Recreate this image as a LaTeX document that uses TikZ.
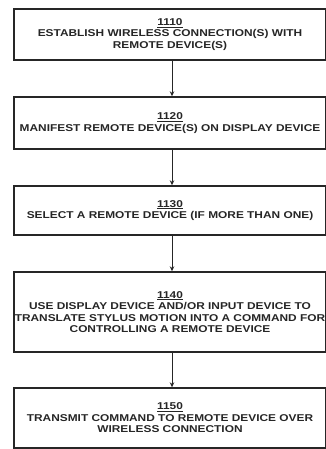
\documentclass[tikz,border=0pt]{standalone}
\usepackage{fontspec}
\setmainfont{Liberation Sans}[FakeStretch=1.2]
\usetikzlibrary{arrows.meta}
\begin{document}
\begin{tikzpicture}[x=1pt,y=1pt,
  stepbox/.style={draw=black!85, line width=1.4pt, minimum width=312pt, inner sep=0pt,
    align=center, font=\fontsize{9.9}{11.5}\selectfont\bfseries, text=black!85},
  flow/.style={draw=black!85, line width=1pt, -{Stealth[length=5pt,width=4.5pt]}}]
\useasboundingbox (0,0) rectangle (326,-449);
\clip (0,0) rectangle (326,-449);
\node[stepbox, minimum height=51pt] (b1) at (170,-34.5)
  {\underline{1110}\\ESTABLISH WIRELESS CONNECTION(S) WITH\\REMOTE DEVICE(S)};
\node[stepbox, minimum height=52pt] (b2) at (170,-123)
  {\underline{1120}\\MANIFEST REMOTE DEVICE(S) ON DISPLAY DEVICE};
\node[stepbox, minimum height=49pt] (b3) at (170,-210.5)
  {\underline{1130}\\SELECT A REMOTE DEVICE (IF MORE THAN ONE)};
\node[stepbox, minimum height=80pt] (b4) at (170,-312)
  {\underline{1140}\\USE DISPLAY DEVICE AND/OR INPUT DEVICE TO\\TRANSLATE STYLUS MOTION INTO A COMMAND FOR\\CONTROLLING A REMOTE DEVICE};
\node[stepbox, minimum height=60pt] (b5) at (170,-418)
  {\underline{1150}\\TRANSMIT COMMAND TO REMOTE DEVICE OVER\\WIRELESS CONNECTION};
\draw[flow] ([xshift=2pt]b1.south) -- ([xshift=2pt]b2.north);
\draw[flow] ([xshift=2pt]b2.south) -- ([xshift=2pt]b3.north);
\draw[flow] ([xshift=2pt]b3.south) -- ([xshift=2pt]b4.north);
\draw[flow] ([xshift=2pt]b4.south) -- ([xshift=2pt]b5.north);
\end{tikzpicture}
\end{document}
